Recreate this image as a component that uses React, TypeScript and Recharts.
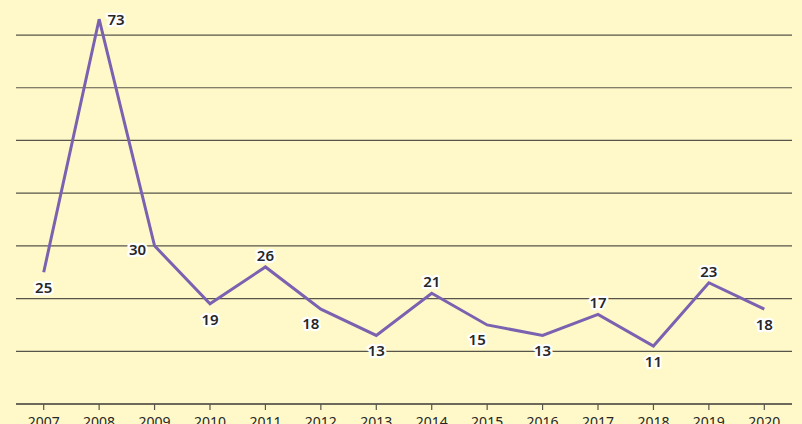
import React from 'react';
import {
  LineChart, Line, XAxis, YAxis, CartesianGrid, LabelList,
} from 'recharts';

const years = ['2007', '2008', '2009', '2010', '2011', '2012', '2013', '2014', '2015', '2016', '2017', '2018', '2019', '2020'];
const counts = [25, 73, 30, 19, 26, 18, 13, 21, 15, 13, 17, 11, 23, 18];
const labelSide = ['below', 'right', 'left', 'below', 'above', 'belowLeft', 'below', 'above', 'belowLeft', 'below', 'above', 'below', 'above', 'below'];
const yTicks = [0, 10, 20, 30, 40, 50, 60, 70];

const data = years.map((year, i) => ({ year, value: counts[i] }));

const BG = '#FFF9CA';
const LINE = '#7B62B0';
const FONT = '"Noto Sans", "Open Sans", sans-serif';

const OFFSETS: Record<string, [number, number]> = {
  below: [0, 15],
  above: [0, -12],
  right: [17, 0],
  left: [-17, 3],
  belowLeft: [-10, 14],
};

const PointLabel = (props: any) => {
  const { x, y, value, index } = props;
  const [dx, dy] = OFFSETS[labelSide[index]] || [0, 0];
  return (
    <text
      x={x + dx}
      y={y + dy}
      textAnchor="middle"
      dominantBaseline="central"
      fontFamily={FONT}
      fontSize={15}
      fontWeight={600}
      fill="#262626"
      stroke="#ffffff"
      strokeWidth={4.5}
      strokeLinejoin="round"
      paintOrder="stroke"
    >
      {value}
    </text>
  );
};

export default function App() {
  return (
    <div style={{ position: 'fixed', left: 0, top: 0, width: 802, height: 424, background: BG }}>
      <LineChart
        width={802}
        height={424}
        data={data}
        margin={{ top: 3.4, right: 10, bottom: 0, left: 16 }}
      >
        <CartesianGrid vertical={false} horizontalValues={yTicks} stroke="#57554a" strokeWidth={1.2} />
        <YAxis hide domain={[0, 76]} ticks={yTicks} allowDataOverflow />
        <XAxis
          dataKey="year"
          padding={{ left: 27.7, right: 27.7 }}
          height={20}
          axisLine={{ stroke: '#57554a', strokeWidth: 1.5 }}
          tickLine={{ stroke: '#57554a', strokeWidth: 1.2 }}
          tickSize={6}
          tick={{ fill: '#262626', fontSize: 14, fontFamily: FONT, dy: 5 }}
          interval={0}
        />
        <Line
          dataKey="value"
          stroke={LINE}
          strokeWidth={3}
          dot={false}
          isAnimationActive={false}
        >
          <LabelList dataKey="value" content={PointLabel} />
        </Line>
      </LineChart>
    </div>
  );
}
